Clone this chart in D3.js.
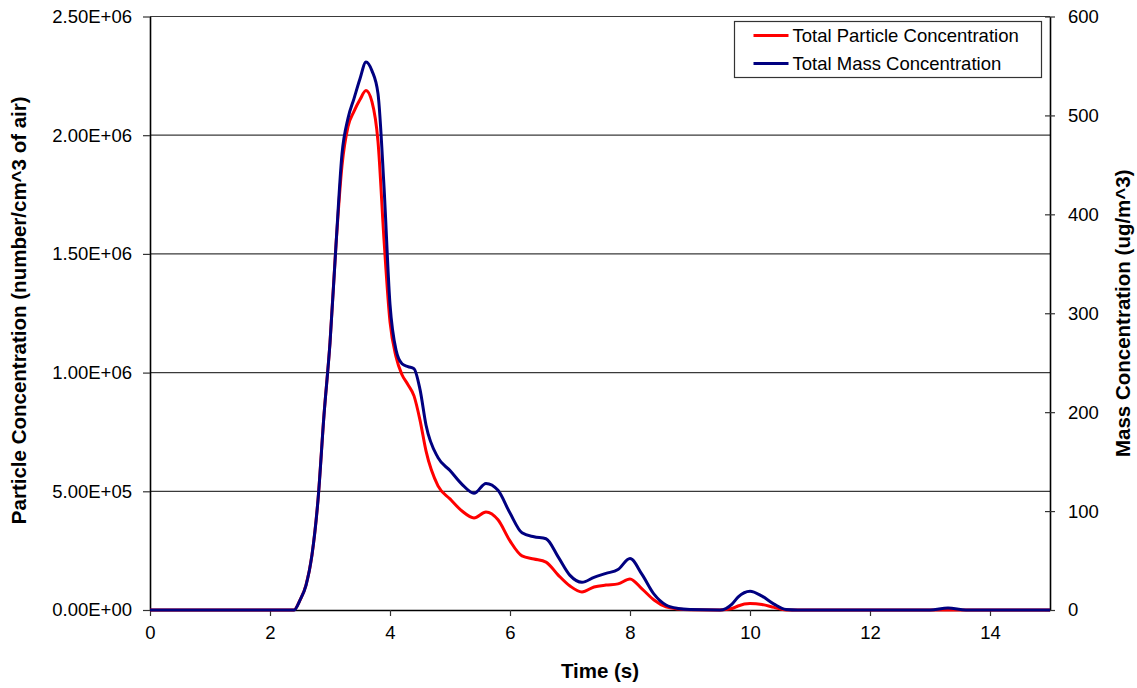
<!DOCTYPE html>
<html>
<head>
<meta charset="utf-8">
<script src="https://cdn.jsdelivr.net/npm/d3@7"></script>
<style>
  html, body { margin: 0; padding: 0; background: #fff; }
  svg { display: block; font-family: "Liberation Sans", Arial, sans-serif; }
</style>
</head>
<body>
<svg id="chart" width="1137" height="688"></svg>
<script>
// Sample times (s)
const times = [0, 1, 2, 2.4, 2.5, 2.6, 2.7, 2.8, 2.9, 3.0,
  3.1, 3.2, 3.3, 3.4, 3.5, 3.6, 3.7, 3.8, 3.9, 4.0,
  4.1, 4.2, 4.3, 4.4, 4.5, 4.6,
  4.8, 5.0, 5.2, 5.4, 5.6, 5.8, 6.0, 6.2, 6.4, 6.6, 6.8, 7.0, 7.2, 7.4, 7.6, 7.8, 8.0, 8.2, 8.4, 8.6, 8.8, 9.0,
  9.5, 9.7, 9.8, 10.0, 10.2, 10.4, 10.6, 10.8,
  12, 13.0, 13.3, 13.6, 14, 15];

// Total particle concentration (number/cm^3 of air)
const particleConc = [0, 0, 0, 0, 0.042e6, 0.105e6, 0.232e6, 0.464e6, 0.822e6, 1.126e6,
  1.539e6, 1.872e6, 2.036e6, 2.100e6, 2.150e6, 2.188e6, 2.140e6, 1.973e6, 1.560e6, 1.214e6,
  1.067e6, 0.991e6, 0.949e6, 0.902e6, 0.800e6, 0.670e6,
  0.523e6, 0.468e6, 0.417e6, 0.388e6, 0.413e6, 0.380e6, 0.291e6, 0.228e6, 0.215e6, 0.202e6, 0.148e6, 0.101e6,
  0.076e6, 0.097e6, 0.105e6, 0.110e6, 0.131e6, 0.089e6, 0.042e6, 0.013e6, 0.004e6, 0.001e6,
  0, 0.006e6, 0.017e6, 0.027e6, 0.023e6, 0.011e6, 0, 0,
  0, 0, 0, 0, 0, 0];

// Total mass concentration (ug/m^3)
const massConc = [0, 0, 0, 0, 10, 25, 56, 111, 197, 270,
  369, 461, 497, 517, 537, 554, 545, 522, 428, 309,
  263, 249, 246, 244, 223, 187,
  154, 141, 127, 118, 128, 121, 98, 78, 74, 72, 54, 35,
  28, 33, 37, 41, 52, 36, 16, 5, 1.5, 0.5,
  0, 6, 13, 19, 14, 6, 0.5, 0,
  0, 0, 2, 0, 0, 0];

const xTicks = [0, 2, 4, 6, 8, 10, 12, 14];
const leftTicks = [0, 0.5e6, 1.0e6, 1.5e6, 2.0e6, 2.5e6];
const rightTicks = [0, 100, 200, 300, 400, 500, 600];

const seriesNames = ["Total Particle Concentration", "Total Mass Concentration"];
const seriesColors = ["#ff0000", "#000080"];

const svg = d3.select("#chart");
const plot = { left: 150, right: 1050, top: 16.5, bottom: 610 };

const x = d3.scaleLinear().domain([0, 15]).range([plot.left, plot.right]);
const yLeft = d3.scaleLinear().domain([0, 2.5e6]).range([plot.bottom, plot.top]);
const yRight = d3.scaleLinear().domain([0, 600]).range([plot.bottom, plot.top]);

// Horizontal gridlines on the left-axis ticks
svg.append("g")
  .selectAll("line")
  .data(leftTicks.filter(d => d > 0))
  .join("line")
  .attr("x1", plot.left).attr("x2", plot.right)
  .attr("y1", d => yLeft(d)).attr("y2", d => yLeft(d))
  .attr("stroke", "#3a3a3a").attr("stroke-width", 1.2);

// Scientific label format like 2.50E+06
function sci(d) {
  if (d === 0) return "0.00E+00";
  const e = Math.floor(Math.log10(Math.abs(d)));
  const m = d / Math.pow(10, e);
  return m.toFixed(2) + "E" + (e >= 0 ? "+" : "-") + String(Math.abs(e)).padStart(2, "0");
}

const fontSize = 18.5;
const titleSize = 20.5;

// Bottom axis
const gx = svg.append("g")
  .attr("transform", `translate(0,${plot.bottom})`)
  .call(d3.axisBottom(x).tickValues(xTicks).tickSize(6).tickSizeOuter(0).tickPadding(10));

// Left axis
const gl = svg.append("g")
  .attr("transform", `translate(${plot.left},0)`)
  .call(d3.axisLeft(yLeft).tickValues(leftTicks).tickFormat(sci).tickSize(7).tickSizeOuter(0).tickPadding(11));

// Right axis
const gr = svg.append("g")
  .attr("transform", `translate(${plot.right},0)`)
  .call(d3.axisRight(yRight).tickValues(rightTicks).tickSize(5).tickSizeOuter(0).tickPadding(13));
gr.selectAll(".tick line").attr("x1", -5);

[gx, gl, gr].forEach(g => {
  g.select(".domain").attr("stroke", "#000").attr("stroke-width", 1.6);
  g.selectAll(".tick line").attr("stroke", "#333").attr("stroke-width", 1.2);
  g.selectAll(".tick text")
    .attr("fill", "#000")
    .style("font-family", '"Liberation Sans", Arial, sans-serif')
    .style("font-size", fontSize + "px");
});

// Series lines
const rows = times.map((t, i) => ({ t, p: particleConc[i], m: massConc[i] }));

const lineP = d3.line().x(d => x(d.t)).y(d => yLeft(d.p)).curve(d3.curveMonotoneX);
const lineM = d3.line().x(d => x(d.t)).y(d => yRight(d.m)).curve(d3.curveMonotoneX);

svg.append("path").datum(rows)
  .attr("d", lineP)
  .attr("fill", "none").attr("stroke", seriesColors[0])
  .attr("stroke-width", 3).attr("stroke-linejoin", "round");

svg.append("path").datum(rows)
  .attr("d", lineM)
  .attr("fill", "none").attr("stroke", seriesColors[1])
  .attr("stroke-width", 3).attr("stroke-linejoin", "round");

// Axis titles
svg.append("text")
  .attr("x", (plot.left + plot.right) / 2).attr("y", 678)
  .attr("text-anchor", "middle")
  .style("font-size", titleSize + "px").style("font-weight", "bold")
  .text("Time (s)");

svg.append("text")
  .attr("transform", `translate(25.5,${(plot.top + plot.bottom) / 2 - 3}) rotate(-90)`)
  .attr("text-anchor", "middle")
  .style("font-size", titleSize + "px").style("font-weight", "bold")
  .text("Particle Concentration (number/cm^3 of air)");

svg.append("text")
  .attr("transform", `translate(1130,${(plot.top + plot.bottom) / 2}) rotate(-90)`)
  .attr("text-anchor", "middle")
  .style("font-size", titleSize + "px").style("font-weight", "bold")
  .text("Mass Concentration (ug/m^3)");

// Legend
const legend = svg.append("g").attr("transform", "translate(734.5,21.5)");
legend.append("rect")
  .attr("width", 307).attr("height", 56)
  .attr("fill", "#fff").attr("stroke", "#333").attr("stroke-width", 1.2);
seriesNames.forEach((name, i) => {
  const row = legend.append("g").attr("transform", `translate(0,${14 + i * 28})`);
  row.append("line")
    .attr("x1", 19).attr("x2", 54)
    .attr("stroke", seriesColors[i]).attr("stroke-width", 3);
  row.append("text")
    .attr("x", 58).attr("dy", "0.35em")
    .style("font-size", fontSize + "px")
    .text(name);
});
</script>
</body>
</html>
